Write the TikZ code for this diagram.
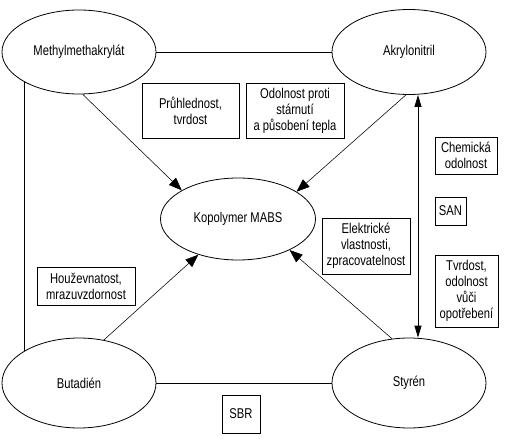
\documentclass[tikz,border=0pt]{standalone}
\usepackage{fontspec}
\setmainfont{Liberation Sans}[FakeStretch=0.79]
\usetikzlibrary{shapes.geometric,arrows.meta}
\begin{document}
\begin{tikzpicture}[x=1pt,y=-1pt,
  every node/.style={font=\fontsize{14.2}{16}\selectfont, align=center},
  oval/.style={draw, ellipse, line width=0.8pt, inner sep=0pt},
  box/.style={draw, rectangle, line width=0.8pt, inner sep=0pt},
  link/.style={line width=0.8pt},
  arr/.style={line width=0.55pt, -{Triangle[length=13pt,width=10pt]}},
  darr/.style={line width=0.9pt, {Triangle[length=12pt,width=7pt]}-{Triangle[length=12pt,width=7pt]}}]
\useasboundingbox (0,0) rectangle (507,439);
\node[oval, minimum width=154pt, minimum height=84pt] (mma) at (79,52) {Methylmethakrylát};
\node[oval, minimum width=154pt, minimum height=85pt] (akr) at (409,52) {Akrylonitril};
\node[oval, minimum width=155pt, minimum height=82pt] (mabs) at (238,219) {Kopolymer MABS};
\node[oval, minimum width=154pt, minimum height=90pt] (but) at (79,383) {Butadién};
\node[oval, minimum width=154pt, minimum height=90pt] (sty) at (409,383) {Styrén};

\node[box, minimum width=97pt, minimum height=55pt] (b1) at (190.5,110.5) {Průhlednost,\\tvrdost};
\node[box, minimum width=98pt, minimum height=55pt] (b2) at (295,110.5) {Odolnost proti\\stárnutí\\a působení tepla};
\node[box, minimum width=62pt, minimum height=37pt] (b3) at (466,155.5) {Chemická\\odolnost};
\node[box, minimum width=31pt, minimum height=28pt] (b4) at (450.5,211) {SAN};
\node[box, minimum width=63pt, minimum height=72pt] (b5) at (466.5,291) {Tvrdost,\\odolnost\\vůči\\opotřebení};
\node[box, minimum width=88pt, minimum height=56pt] (b6) at (366,246) {Elektrické\\vlastnosti,\\zpracovatelnost};
\node[box, minimum width=98pt, minimum height=38pt] (b7) at (86,286) {Houževnatost,\\mrazuvzdornost};
\node[box, minimum width=38pt, minimum height=38pt] (b8) at (241,414) {SBR};

\draw[link] (mma) -- (akr);
\draw[link] (but) -- (sty);
\draw[link] (mma.south west) -- (but.north west);
\draw[darr] ([xshift=9pt]akr.south) -- ([xshift=9pt]sty.north);

\draw[arr] (mma.-85) -- (mabs.153);
\draw[arr] (akr.-94) -- (mabs.25);
\draw[arr] (but.60) -- (mabs.-138);
\draw[arr] (sty.111) -- (mabs.-31);
\end{tikzpicture}
\end{document}
